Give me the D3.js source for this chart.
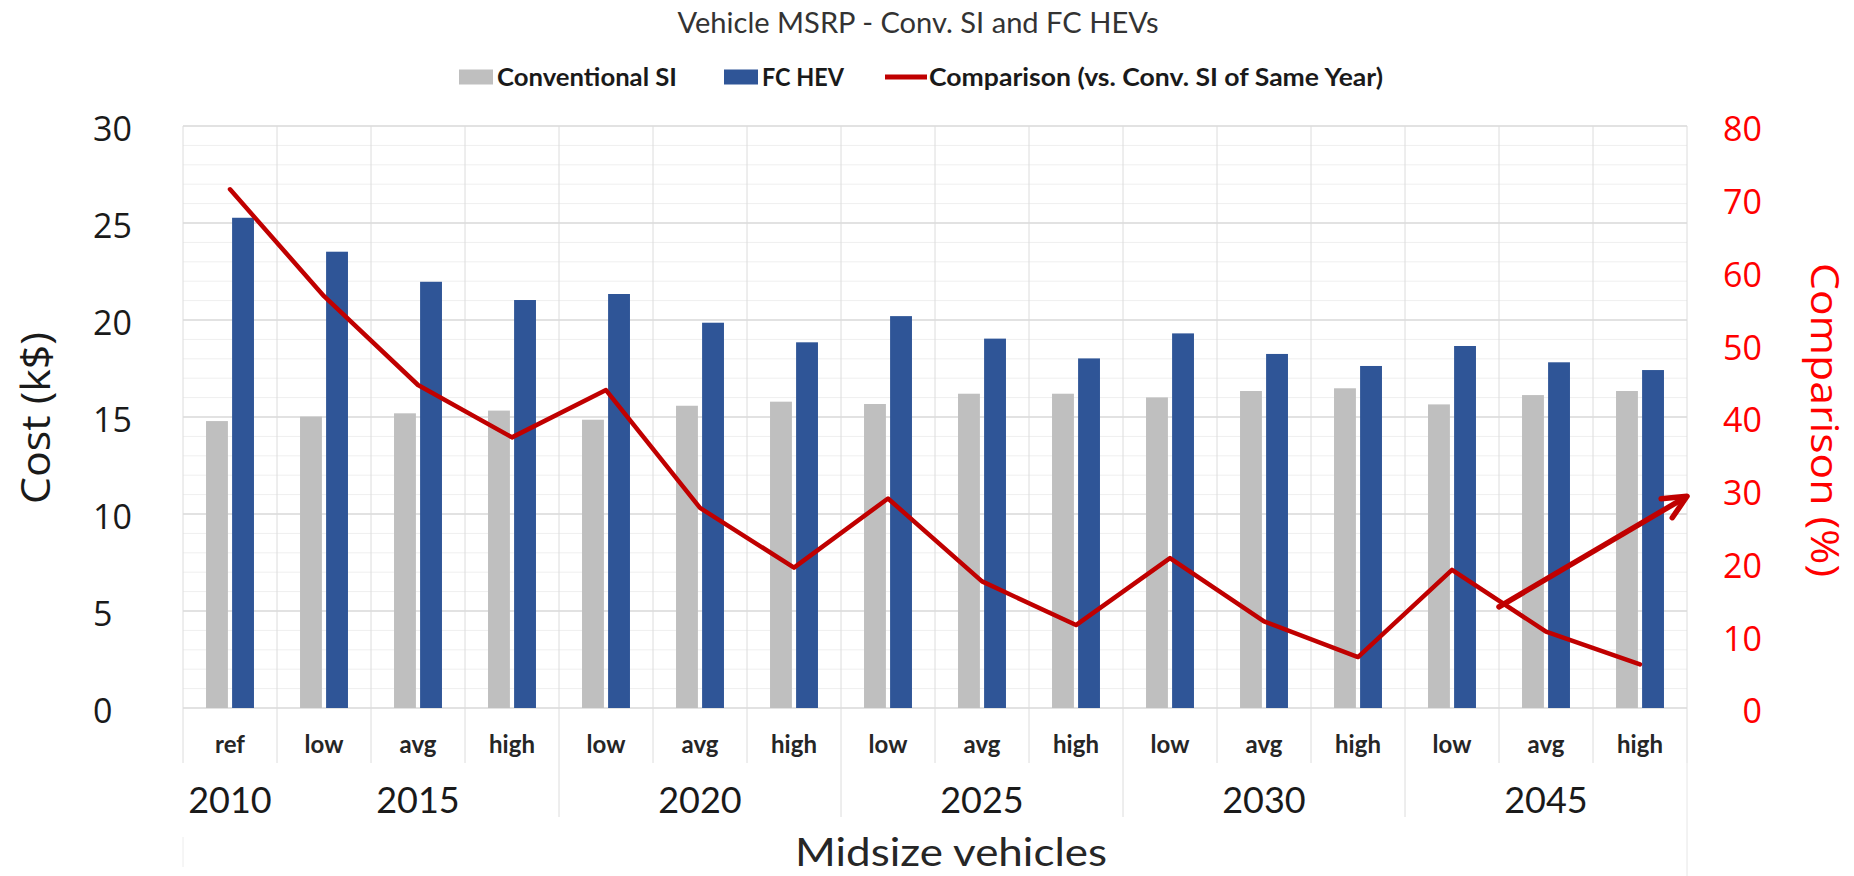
<!DOCTYPE html>
<html><head><meta charset="utf-8">
<script src="https://cdn.jsdelivr.net/npm/d3@7"></script>
<style>html,body{margin:0;padding:0;background:#fff;} svg{display:block;}</style>
</head><body>
<svg id="chart" width="1854" height="876"></svg>
<script>
// ---------- data ----------
const categories = ["ref","low","avg","high","low","avg","high","low","avg","high","low","avg","high","low","avg","high"];
const categoryYears = ["2010","2015","2015","2015","2020","2020","2020","2025","2025","2025","2030","2030","2030","2045","2045","2045"];
const convSI = [14.79,15.02,15.19,15.33,14.86,15.58,15.79,15.67,16.20,16.20,16.01,16.34,16.48,15.65,16.13,16.34];
const fcHEV  = [25.27,23.52,21.97,21.03,21.34,19.86,18.85,20.20,19.04,18.02,19.31,18.25,17.63,18.66,17.82,17.42];
const comparison = [71.3,56.6,44.4,37.2,43.7,27.5,19.3,28.8,17.4,11.4,20.6,11.9,7.0,19.0,10.5,6.0];
const costTicks = [0,5,10,15,20,25,30];
const pctTicks = [0,10,20,30,40,50,60,70,80];
const seriesNames = ["Conventional SI","FC HEV","Comparison (vs. Conv. SI of Same Year)"];
const titleText = "Vehicle MSRP - Conv. SI and FC HEVs";
const xTitle = "Midsize vehicles";
const yLeftTitle = "Cost (k$)";
const yRightTitle = "Comparison (%)";
// annotation arrow (category-index units, percent)
const arrowFrom = [14, 13.9];
const arrowTo = [16, 29.1];

// ---------- layout ----------
const svg = d3.select("#chart");
const L = 183, R = 1687, T = 126, B = 708;
const catRowBottom = 763, yearRowBottom = 817;
const grey = "#BFBFBF", blue = "#2F5597", red = "#C00000";
const calib = "Lato, 'Open Sans', sans-serif";
const segoe = "'Open Sans', 'Noto Sans', sans-serif";

const idx = d3.range(categories.length);
const x0 = d3.scaleBand().domain(idx).range([L, R]).paddingInner(0).paddingOuter(0);
const bw = x0.bandwidth();
const x1 = d3.scaleBand().domain(["si","fc"]).range([bw*0.245, bw*0.755]).paddingInner(0.16);
const xi = d3.scaleLinear().domain([0, categories.length]).range([L, R]);
const yL = d3.scaleLinear().domain([0,30]).range([B, T]);
const yR = d3.scaleLinear().domain([0,80]).range([B, T]);

// ---------- grid ----------
const grid = svg.append("g");
grid.selectAll(".minor").data(d3.range(0,31,1).filter(v=>v%5!==0)).join("line")
  .attr("x1",L).attr("x2",R).attr("y1",d=>yL(d)).attr("y2",d=>yL(d))
  .attr("stroke","#efefef").attr("stroke-width",1);
grid.selectAll(".major").data(costTicks).join("line")
  .attr("x1",L).attr("x2",R).attr("y1",d=>yL(d)).attr("y2",d=>yL(d))
  .attr("stroke","#d9d9d9").attr("stroke-width",1.6);
grid.selectAll(".vcat").data(d3.range(categories.length+1)).join("line")
  .attr("x1",d=>xi(d)).attr("x2",d=>xi(d)).attr("y1",T).attr("y2",catRowBottom)
  .attr("stroke","#dcdcdc").attr("stroke-width",1);
// year group separators
const groups = [];
categoryYears.forEach((y,i)=>{
  if (!groups.length || groups[groups.length-1].year!==y) groups.push({year:y,start:i,end:i+1});
  else groups[groups.length-1].end = i+1;
});
grid.selectAll(".vyear").data(groups.slice(2).map(g=>g.start)).join("line")
  .attr("x1",d=>xi(d)).attr("x2",d=>xi(d)).attr("y1",catRowBottom).attr("y2",yearRowBottom)
  .attr("stroke","#dcdcdc").attr("stroke-width",1);
grid.append("line").attr("x1",xi(categories.length)).attr("x2",xi(categories.length))
  .attr("y1",catRowBottom).attr("y2",876).attr("stroke","#e6e6e6");
grid.append("line").attr("x1",xi(0)).attr("x2",xi(0))
  .attr("y1",837).attr("y2",867).attr("stroke","#ececec");

// ---------- bars ----------
const bars = svg.append("g");
bars.selectAll(".si").data(convSI).join("rect")
  .attr("x",(d,i)=>x0(i)+x1("si")).attr("width",x1.bandwidth())
  .attr("y",d=>yL(d)).attr("height",d=>yL(0)-yL(d)).attr("fill",grey);
bars.selectAll(".fc").data(fcHEV).join("rect")
  .attr("x",(d,i)=>x0(i)+x1("fc")).attr("width",x1.bandwidth())
  .attr("y",d=>yL(d)).attr("height",d=>yL(0)-yL(d)).attr("fill",blue);

// ---------- line ----------
const line = d3.line().x((d,i)=>x0(i)+bw/2).y(d=>yR(d));
svg.append("path").datum(comparison).attr("d",line)
  .attr("fill","none").attr("stroke",red).attr("stroke-width",4.5)
  .attr("stroke-linejoin","round").attr("stroke-linecap","round");

// ---------- arrow ----------
{
  const ax1 = xi(arrowFrom[0]), ay1 = yR(arrowFrom[1]);
  const ax2 = xi(arrowTo[0]), ay2 = yR(arrowTo[1]);
  const ang = Math.atan2(ay2-ay1, ax2-ax1);
  const hl = 26, ha = 25*Math.PI/180;
  const p1 = [ax2 - hl*Math.cos(ang-ha), ay2 - hl*Math.sin(ang-ha)];
  const p2 = [ax2 - hl*Math.cos(ang+ha), ay2 - hl*Math.sin(ang+ha)];
  const ag = svg.append("g").attr("stroke",red).attr("stroke-width",5.5).attr("fill","none")
    .attr("stroke-linecap","round").attr("stroke-linejoin","round");
  ag.append("line").attr("x1",ax1).attr("y1",ay1).attr("x2",ax2-2*Math.cos(ang)).attr("y2",ay2-2*Math.sin(ang));
  ag.append("path").attr("d",`M${p1[0]},${p1[1]}L${ax2},${ay2}L${p2[0]},${p2[1]}`);
}

// ---------- axes ----------
const gL = svg.append("g").attr("transform","translate(93,0)")
  .call(d3.axisLeft(yL).tickValues(costTicks).tickSize(0).tickPadding(0));
gL.select(".domain").remove();
gL.selectAll("text").attr("text-anchor","start").attr("x",0).attr("dy","0.44em")
  .style("font-family",segoe).style("font-size","34px").attr("fill","#1a1a1a");

const gR = svg.append("g").attr("transform","translate(1762,0)")
  .call(d3.axisRight(yR).tickValues(pctTicks).tickSize(0).tickPadding(0));
gR.select(".domain").remove();
gR.selectAll("text").attr("text-anchor","end").attr("x",0).attr("dy","0.44em")
  .style("font-family",segoe).style("font-size","34px").attr("fill","#FF0000");

const gB = svg.append("g").attr("transform","translate(0,753)")
  .call(d3.axisBottom(x0).tickFormat(i=>categories[i]).tickSize(0).tickPadding(0));
gB.select(".domain").remove();
gB.selectAll("text").attr("y",0).attr("dy",0)
  .style("font-family",calib).style("font-size","24px").style("font-weight","bold").attr("fill","#262626");

// year labels
svg.append("g").selectAll("text").data(groups).join("text")
  .attr("x",d=>(xi(d.start)+xi(d.end))/2).attr("y",813).attr("text-anchor","middle")
  .style("font-family",calib).style("font-size","36px").attr("fill","#1a1a1a").text(d=>d.year);

// axis titles
svg.append("text").attr("x",951).attr("y",866).attr("text-anchor","middle")
  .attr("textLength",312).attr("lengthAdjust","spacingAndGlyphs")
  .style("font-family",calib).style("font-size","38px").attr("fill","#262626").text(xTitle);
svg.append("text").attr("transform","translate(36,418) rotate(-90)").attr("text-anchor","middle")
  .attr("textLength",172).attr("lengthAdjust","spacingAndGlyphs")
  .attr("dy","0.35em").style("font-family",segoe).style("font-size","40px").attr("fill","#1a1a1a").text(yLeftTitle);
svg.append("text").attr("transform","translate(1824,420) rotate(90)").attr("text-anchor","middle")
  .attr("textLength",314).attr("lengthAdjust","spacingAndGlyphs")
  .attr("dy","0.35em").style("font-family",segoe).style("font-size","38px").attr("fill","#FF0000").text(yRightTitle);

// title
svg.append("text").attr("x",918).attr("y",33).attr("text-anchor","middle")
  .attr("textLength",481).attr("lengthAdjust","spacingAndGlyphs")
  .style("font-family",calib).style("font-size","28px").attr("fill","#333333").text(titleText);

// legend
{
  const lg = svg.append("g");
  const yc = 77;
  const items = [
    {type:"rect", c:grey, mark:459, text:497, w:180},
    {type:"rect", c:blue, mark:724, text:762, w:82},
    {type:"line", c:red,  mark:885, text:929, w:454}
  ];
  seriesNames.forEach((name,i)=>{
    const s = items[i];
    if (s.type==="rect") {
      lg.append("rect").attr("x",s.mark).attr("y",yc-7.5).attr("width",s.text-s.mark-4).attr("height",15).attr("fill",s.c);
    } else {
      lg.append("line").attr("x1",s.mark).attr("x2",s.text-2).attr("y1",yc).attr("y2",yc)
        .attr("stroke",s.c).attr("stroke-width",5);
    }
    lg.append("text").attr("x",s.text).attr("y",yc+8.5)
      .attr("textLength",s.w).attr("lengthAdjust","spacingAndGlyphs")
      .style("font-family",calib).style("font-size","25px").style("font-weight","bold")
      .attr("fill","#1a1a1a").text(name);
  });
}
</script>
</body></html>
